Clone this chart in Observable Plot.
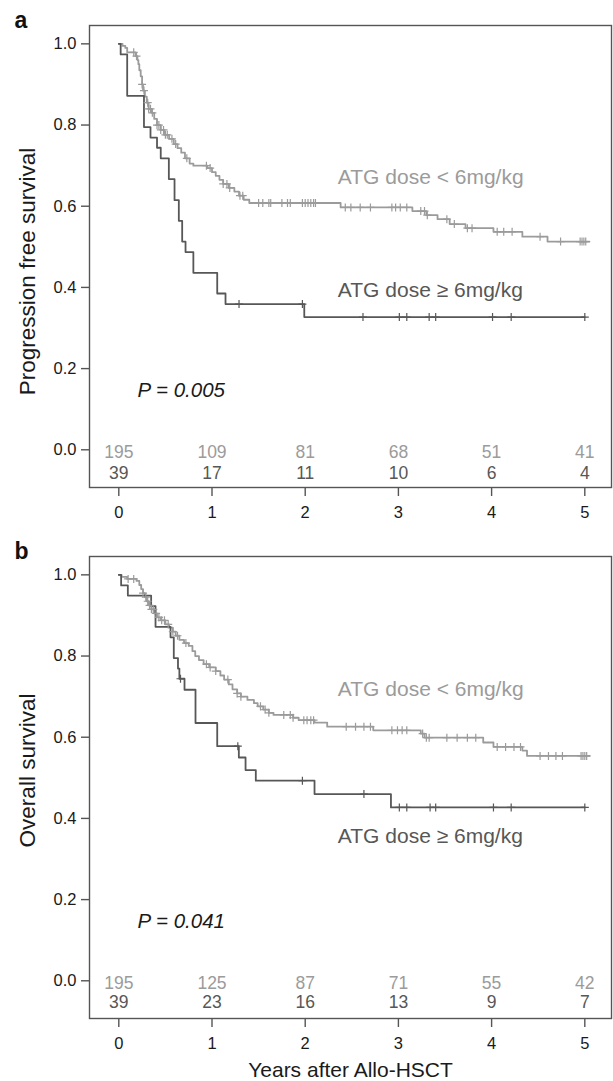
<!DOCTYPE html>
<html><head><meta charset="utf-8">
<script src="https://cdn.jsdelivr.net/npm/d3@7"></script>
<script src="https://cdn.jsdelivr.net/npm/@observablehq/plot@0.6"></script>
<style>
body{margin:0;background:#fff;}
#wrap{position:relative;width:613px;height:1081px;background:#fff;}
.panel{position:absolute;left:0;}
</style></head><body><div id="wrap"></div>
<script>
// ---------- data ----------
const years = [0, 1, 2, 3, 4, 5];
const yTicks = [0, 0.2, 0.4, 0.6, 0.8, 1.0];
const labelLow = "ATG dose < 6mg/kg";
const labelHigh = "ATG dose \u2265 6mg/kg";

// Panel a: progression free survival
const aLowT = [0, 0.04, 0.07, 0.09, 0.18, 0.20, 0.21, 0.22, 0.235, 0.25, 0.26, 0.28, 0.30, 0.32, 0.35, 0.38, 0.41, 0.45, 0.49, 0.54, 0.59, 0.63, 0.67, 0.71, 0.76, 0.80, 0.95, 1.00, 1.04, 1.08, 1.12, 1.18, 1.24, 1.29, 1.34, 1.40, 2.38, 3.15, 3.30, 3.42, 3.55, 3.72, 4.02, 4.33, 4.60];
const aLowS = [1, 0.995, 0.99, 0.979, 0.97, 0.96, 0.95, 0.935, 0.92, 0.90, 0.885, 0.87, 0.855, 0.84, 0.83, 0.815, 0.80, 0.788, 0.776, 0.766, 0.753, 0.743, 0.732, 0.718, 0.705, 0.70, 0.694, 0.684, 0.675, 0.665, 0.655, 0.645, 0.636, 0.626, 0.616, 0.608, 0.597, 0.588, 0.578, 0.568, 0.556, 0.546, 0.537, 0.525, 0.513];
const aLowEnd = 5.05;
const aLowC = [0.16, 0.19, 0.25, 0.27, 0.31, 0.32, 0.34, 0.36, 0.41, 0.43, 0.45, 0.48, 0.50, 0.52, 0.57, 0.61, 0.73, 0.94, 0.98, 1.12, 1.16, 1.19, 1.30, 1.33, 1.50, 1.545, 1.61, 1.63, 1.75, 1.81, 1.84, 1.97, 2.0, 2.03, 2.06, 2.09, 2.11, 2.43, 2.49, 2.59, 2.70, 2.93, 2.97, 3.02, 3.09, 3.24, 3.28, 3.31, 3.52, 3.60, 3.74, 3.79, 4.06, 4.13, 4.22, 4.52, 4.74, 4.95, 4.97, 4.99, 5.01];
const aHighT = [0, 0.02, 0.09, 0.27, 0.34, 0.41, 0.45, 0.537, 0.598, 0.644, 0.68, 0.716, 0.80, 1.056, 1.145, 1.99];
const aHighS = [1, 0.974, 0.872, 0.795, 0.769, 0.744, 0.718, 0.667, 0.615, 0.564, 0.513, 0.487, 0.436, 0.385, 0.359, 0.327];
const aHighEnd = 5.0;
const aHighC = [1.29, 1.97, 2.62, 3.01, 3.09, 3.33, 3.40, 4.01, 4.21, 5.0];
const aRiskLow = [195, 109, 81, 68, 51, 41];
const aRiskHigh = [39, 17, 11, 10, 6, 4];

// Panel b: overall survival
const bLowT = [0, 0.03, 0.09, 0.19, 0.22, 0.24, 0.26, 0.28, 0.30, 0.32, 0.35, 0.38, 0.41, 0.45, 0.50, 0.54, 0.58, 0.61, 0.65, 0.70, 0.75, 0.79, 0.82, 0.86, 0.91, 0.97, 1.04, 1.09, 1.13, 1.18, 1.22, 1.27, 1.31, 1.38, 1.45, 1.49, 1.55, 1.61, 1.66, 1.87, 1.93, 2.10, 2.236, 2.73, 3.24, 3.28, 3.91, 4.02, 4.33, 4.38];
const bLowS = [1, 0.995, 0.99, 0.985, 0.975, 0.965, 0.955, 0.945, 0.935, 0.925, 0.915, 0.905, 0.895, 0.888, 0.878, 0.870, 0.860, 0.850, 0.840, 0.832, 0.825, 0.812, 0.800, 0.790, 0.780, 0.772, 0.763, 0.752, 0.742, 0.730, 0.718, 0.708, 0.700, 0.692, 0.684, 0.676, 0.668, 0.660, 0.655, 0.648, 0.642, 0.636, 0.626, 0.617, 0.609, 0.599, 0.587, 0.576, 0.567, 0.554];
const bLowEnd = 5.05;
const bLowC = [0.10, 0.16, 0.26, 0.29, 0.31, 0.33, 0.35, 0.37, 0.40, 0.43, 0.46, 0.49, 0.53, 0.58, 0.63, 0.72, 0.94, 0.98, 1.04, 1.17, 1.27, 1.31, 1.52, 1.57, 1.61, 1.77, 1.84, 1.87, 1.985, 2.02, 2.06, 2.09, 2.44, 2.54, 2.63, 2.70, 2.93, 2.99, 3.04, 3.09, 3.26, 3.30, 3.33, 3.52, 3.63, 3.74, 3.83, 4.06, 4.15, 4.24, 4.31, 4.52, 4.61, 4.69, 4.76, 4.96, 4.98, 5.0, 5.02];
const bHighT = [0, 0.025, 0.097, 0.347, 0.394, 0.555, 0.59, 0.635, 0.65, 0.705, 0.823, 1.056, 1.288, 1.36, 1.47, 2.10, 2.92];
const bHighS = [1, 0.974, 0.949, 0.923, 0.872, 0.846, 0.795, 0.769, 0.744, 0.717, 0.635, 0.578, 0.550, 0.519, 0.493, 0.460, 0.427];
const bHighEnd = 5.0;
const bHighC = [0.662, 1.277, 1.97, 2.63, 3.01, 3.09, 3.34, 3.40, 4.02, 4.21, 5.0];
const bRiskLow = [195, 125, 87, 71, 55, 42];
const bRiskHigh = [39, 23, 16, 13, 9, 7];

// ---------- drawing ----------
const FONT = '"Liberation Sans", Arial, Helvetica, sans-serif';
const GREY = "#9b9b9b";
const DARK = "#575757";

function stepPoints(T, S, end) {
  const pts = T.map((t, i) => ({t, s: S[i]}));
  pts.push({t: end, s: S[S.length - 1]});
  return pts;
}
function survAt(T, S, t) {
  let s = S[0];
  for (let i = 0; i < T.length; i++) if (T[i] <= t) s = S[i];
  return s;
}

function panel(cfg) {
  const low = stepPoints(cfg.lowT, cfg.lowS, cfg.lowEnd);
  const high = stepPoints(cfg.highT, cfg.highS, cfg.highEnd);
  const marks = [
    Plot.frame({stroke: "#555", strokeWidth: 1.4}),
    Plot.axisX({ticks: years, tickFormat: d3.format("d"), tickSize: 9, tickPadding: 10, stroke: "#555", strokeWidth: 1.4, fill: "#1a1a1a", label: null}),
    Plot.axisY({ticks: yTicks, tickFormat: d3.format(".1f"), tickSize: 8, tickPadding: 5, stroke: "#555", strokeWidth: 1.4, fill: "#1a1a1a", label: null}),
    Plot.line(low, {x: "t", y: "s", curve: "step-after", stroke: GREY, strokeWidth: 1.8}),
    Plot.line(high, {x: "t", y: "s", curve: "step-after", stroke: DARK, strokeWidth: 1.8}),
    Plot.dot(cfg.lowC, {x: d => d, y: d => survAt(cfg.lowT, cfg.lowS, d), symbol: "plus", r: 2.7, stroke: GREY, strokeWidth: 1.2}),
    Plot.dot(cfg.highC, {x: d => d, y: d => survAt(cfg.highT, cfg.highS, d), symbol: "plus", r: 2.7, stroke: DARK, strokeWidth: 1.2}),
    Plot.text([labelLow], {x: 2.35, y: cfg.labLowY, text: d => d, textAnchor: "start", lineAnchor: "middle", fill: GREY, fontSize: 21}),
    Plot.text([labelHigh], {x: 2.35, y: cfg.labHighY, text: d => d, textAnchor: "start", lineAnchor: "middle", fill: DARK, fontSize: 21}),
    Plot.text([cfg.pval], {x: 0.2, y: 0.145, text: d => d, textAnchor: "start", lineAnchor: "middle", fill: "#1a1a1a", fontSize: 20.5, fontStyle: "italic"}),
    Plot.text(years, {x: d => d, y: -0.006, text: (d, i) => cfg.riskLow[i], lineAnchor: "middle", fill: GREY, fontSize: 17.5}),
    Plot.text(years, {x: d => d, y: cfg.riskHighY, text: (d, i) => cfg.riskHigh[i], lineAnchor: "middle", fill: DARK, fontSize: 17.5}),
    Plot.text([cfg.ylabel], {frameAnchor: "left", dx: -62, dy: cfg.ylabelDy, rotate: -90, textAnchor: "middle", lineAnchor: "middle", text: d => d, fill: "#1a1a1a", fontSize: 22.5}),
    Plot.text([cfg.letter], {frameAnchor: "top-left", dx: -75, dy: 2, textAnchor: "start", lineAnchor: "bottom", text: d => d, fill: "#111", fontSize: 23, fontWeight: "bold"})
  ];
  if (cfg.xlabel) {
    marks.push(Plot.text([cfg.xlabel], {frameAnchor: "bottom", dy: 52, textAnchor: "middle", lineAnchor: "middle", text: d => d, fill: "#1a1a1a", fontSize: 21}));
  }
  return Plot.plot({
    width: 613,
    height: cfg.height,
    marginLeft: 89, marginRight: 2, marginTop: 25, marginBottom: cfg.marginBottom,
    style: {fontFamily: FONT, fontSize: "16.5px", background: "transparent", color: "#1a1a1a", overflow: "visible"},
    x: {domain: [-0.3144, 5.2864]},
    y: {domain: [-0.0929, 1.0452]},
    marks
  });
}

const wrap = document.getElementById("wrap");
const pa = panel({
  lowT: aLowT, lowS: aLowS, lowEnd: aLowEnd, lowC: aLowC,
  highT: aHighT, highS: aHighS, highEnd: aHighEnd, highC: aHighC,
  riskLow: aRiskLow, riskHigh: aRiskHigh, riskHighY: -0.0576,
  labLowY: 0.671, labHighY: 0.392, pval: "P = 0.005",
  ylabel: "Progression free survival", ylabelDy: 15, letter: "a",
  height: 531, marginBottom: 44
});
const pb = panel({
  lowT: bLowT, lowS: bLowS, lowEnd: bLowEnd, lowC: bLowC,
  highT: bHighT, highS: bHighS, highEnd: bHighEnd, highC: bHighC,
  riskLow: bRiskLow, riskHigh: bRiskHigh, riskHighY: -0.052,
  labLowY: 0.719, labHighY: 0.357, pval: "P = 0.041",
  ylabel: "Overall survival", ylabelDy: -17, letter: "b", xlabel: "Years after Allo-HSCT",
  height: 550, marginBottom: 63
});
const da = document.createElement("div"); da.className = "panel"; da.style.top = "0px"; da.appendChild(pa);
const db = document.createElement("div"); db.className = "panel"; db.style.top = "531px"; db.appendChild(pb);
wrap.appendChild(da); wrap.appendChild(db);
</script>
</body></html>
